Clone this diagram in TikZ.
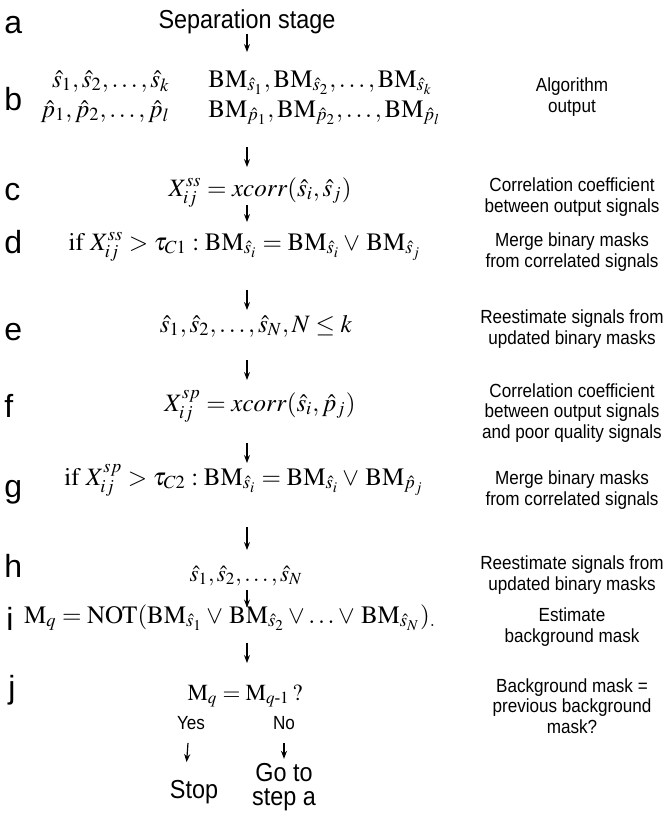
\documentclass[tikz,border=0pt]{standalone}
\usepackage{amsmath}
\usepackage{mathptmx}
\usepackage[no-math]{fontspec}
\setmainfont{Liberation Serif}
\setsansfont{Liberation Sans}
\newfontfamily\narrowsf[FakeStretch=0.9]{Liberation Sans}
\usetikzlibrary{arrows.meta,positioning}
\newcommand{\BM}{\mathrm{BM}}
\newcommand{\shat}{\hat{s}}
\newcommand{\phat}{\hat{p}}

\begin{document}
\begin{tikzpicture}[
  x=0.5pt, y=-0.5pt,
  mrow/.style={inner sep=0pt, anchor=base, font=\fontsize{12.5}{15}\selectfont},
  srow/.style={mrow, font=\fontsize{11.5}{14}\selectfont},
  lead/.style={inner sep=0pt, anchor=base, font=\narrowsf\fontsize{13}{12}\selectfont},
  note/.style={inner sep=0pt, align=center, font=\narrowsf\fontsize{9.5}{10.3}\selectfont},
  choice/.style={inner sep=0pt, anchor=base, font=\narrowsf\fontsize{9.5}{11}\selectfont},
  tag/.style={inner sep=0pt, anchor=base west, font=\sffamily\fontsize{16}{18}\selectfont},
  arr/.style={-{Stealth[length=4pt,width=3pt]}, line width=0.6pt}
]
  \useasboundingbox (0,0) rectangle (669,821);
  \coordinate (spine) at (247,0);

  % step letters
  \node[tag] (la) at (4,33) {a};
  \node[tag] (lb) at (4,110) {b};
  \node[tag] (lc) at (4,200) {c};
  \node[tag] (ld) at (4,253) {d};
  \node[tag] (le) at (4,340) {e};
  \node[tag] (lf) at (4,417) {f};
  \node[tag] (lg) at (4,497) {g};
  \node[tag] (lh) at (4,577) {h};
  \node[tag] (li) at (6,630) {i};
  \node[tag] (lj) at (8,698) {j};

  % main column
  \node[lead] (sep) at (247,28) {Separation stage};
  \node[mrow, anchor=base east] (sk) at (170,87) {$\shat_1,\shat_2,\ldots,\shat_k$};
  \node[mrow, anchor=base west] (bmk) at (208,87) {$\BM_{\shat_1},\BM_{\shat_2},\ldots,\BM_{\shat_k}$};
  \node[mrow, anchor=base east] (pl) at (170,117) {$\phat_1,\phat_2,\ldots,\phat_l$};
  \node[mrow, anchor=base west] (bml) at (208,117) {$\BM_{\phat_1},\BM_{\phat_2},\ldots,\BM_{\phat_l}$};
  \node[mrow] (xss) at (260,196) {$X_{ij}^{ss} = xcorr(\shat_i,\shat_j)$};
  \node[mrow] (mss) at (245,250) {$\mathrm{if}\ X_{ij}^{ss} > \tau_{C1} : \BM_{\shat_i} = \BM_{\shat_i} \vee\, \BM_{\shat_j}$};
  \node[mrow] (sn) at (256,332) {$\shat_1,\shat_2,\ldots,\shat_N, N \le k$};
  \node[mrow] (xsp) at (260,411) {$X_{ij}^{sp} = xcorr(\shat_i,\phat_j)$};
  \node[mrow] (msp) at (244,485) {$\mathrm{if}\ X_{ij}^{sp} > \tau_{C2} : \BM_{\shat_i} = \BM_{\shat_i} \vee\, \BM_{\phat_j}$};
  \node[srow] (snn) at (246,581) {$\shat_1,\shat_2,\ldots,\shat_N$};
  \node[mrow] (mq) at (230,623) {$\mathrm{M}_q = \mathrm{NOT}(\BM_{\shat_1} \vee\, \BM_{\shat_2} \vee\ldots\vee\, \BM_{\shat_N})_{.}$};
  \node[srow] (test) at (245,700) {$\mathrm{M}_q = \mathrm{M}_{q\text{-}1}\,?$};
  \node[choice] (yes) at (191,729) {Yes};
  \node[choice] (no) at (284,729) {No};
  \node[lead] (stop) at (194,798) {Stop};
  \node[lead, align=center, anchor=center] (goto) at (284,787) {Go to\\step a};

  % right column
  \node[note] (nb) at (572,97) {Algorithm\\output};
  \node[note] (nc) at (572,197) {Correlation coefficient\\between output signals};
  \node[note] (nd) at (572,252) {Merge binary masks\\from correlated signals};
  \node[note] (ne) at (572,329) {Reestimate signals from\\updated binary masks};
  \node[note] (nf) at (572,413) {Correlation coefficient\\between output signals\\and poor quality signals};
  \node[note] (ng) at (572,490) {Merge binary masks\\from correlated signals};
  \node[note] (nh) at (572,575) {Reestimate signals from\\updated binary masks};
  \node[note] (ni) at (572,627) {Estimate\\background mask};
  \node[note] (nj) at (572,706) {Background mask =\\previous background\\mask?};

  % arrows
  \draw[arr, shorten <=3pt, shorten >=17.5pt] (sep.base -| spine) -- (bmk.base -| spine);
  \draw[arr, shorten <=15pt, shorten >=14.5pt] (bml.base -| spine) -- (xss.base -| spine);
  \draw[arr, shorten <=4.5pt, shorten >=14pt] (xss.base -| spine) -- (mss.base -| spine);
  \draw[arr, shorten <=20pt, shorten >=11pt] (mss.base -| spine) -- (sn.base -| spine);
  \draw[arr, shorten <=14pt, shorten >=15.5pt] (sn.base -| spine) -- (xsp.base -| spine);
  \draw[arr, shorten <=16pt, shorten >=11pt] (xsp.base -| spine) -- (msp.base -| spine);
  \draw[arr, shorten <=21pt, shorten >=15.5pt] (msp.base -| spine) -- (snn.base -| spine);
  \draw[arr, shorten <=4.5pt, shorten >=7.75pt] (snn.base -| spine) -- (mq.base -| spine);
  \draw[arr, shorten <=9.75pt, shorten >=18.5pt] (mq.base -| spine) -- (test.base -| spine);
  \draw[arr, shorten <=7pt, shorten >=18pt] ([xshift=-1]yes.base) -- ([xshift=-5]stop.base);
  \draw[arr, shorten <=7pt, shorten >=2pt] (no.base) -- (goto.north);
\end{tikzpicture}
\end{document}
